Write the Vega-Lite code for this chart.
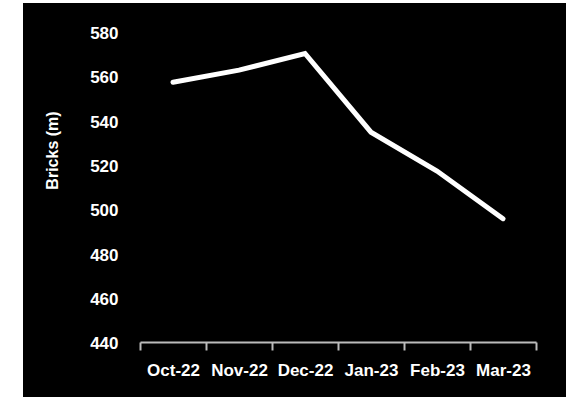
{
  "$schema": "https://vega.github.io/schema/vega-lite/v6.json",
  "width": 543,
  "height": 394,
  "autosize": {"type": "none"},
  "padding": {"left": 23, "top": 3, "right": 8, "bottom": 3},
  "background": "white",
  "view": {"fill": "black", "stroke": null},
  "config": {
    "font": "Liberation Sans",
    "axis": {
      "grid": false,
      "labelColor": "white",
      "labelFont": "Liberation Sans",
      "labelFontWeight": "bold",
      "labelFontSize": 17,
      "titleColor": "white",
      "titleFont": "Liberation Sans"
    }
  },
  "data": {
    "values": [
      {"month": "Oct-22", "bricks": 558},
      {"month": "Nov-22", "bricks": 563.5},
      {"month": "Dec-22", "bricks": 571},
      {"month": "Jan-23", "bricks": 535.5},
      {"month": "Feb-23", "bricks": 518},
      {"month": "Mar-23", "bricks": 496.5}
    ]
  },
  "mark": {"type": "line", "color": "white", "strokeWidth": 5, "strokeCap": "round"},
  "encoding": {
    "x": {
      "field": "month",
      "type": "ordinal",
      "sort": null,
      "scale": {"type": "band", "range": [117, 513], "paddingInner": 0, "paddingOuter": 0},
      "axis": {
        "title": null,
        "labelAngle": 0,
        "offset": -55,
        "tickBand": "extent",
        "domainColor": "#bbbbbb",
        "domainWidth": 2,
        "tickColor": "#bbbbbb",
        "tickWidth": 2,
        "tickSize": 8,
        "labelPadding": 12
      }
    },
    "y": {
      "field": "bricks",
      "type": "quantitative",
      "scale": {"domain": [416.1, 593.75], "nice": false, "zero": false},
      "axis": {
        "title": "Bricks (m)",
        "values": [440, 460, 480, 500, 520, 540, 560, 580],
        "offset": -99,
        "domain": false,
        "ticks": false,
        "tickSize": 0,
        "labelPadding": 4,
        "titleFontSize": 16,
        "titleFontWeight": "bold",
        "titleAngle": -90,
        "titleAlign": "center",
        "titleBaseline": "middle",
        "titleX": -70,
        "titleY": 147
      }
    }
  }
}
